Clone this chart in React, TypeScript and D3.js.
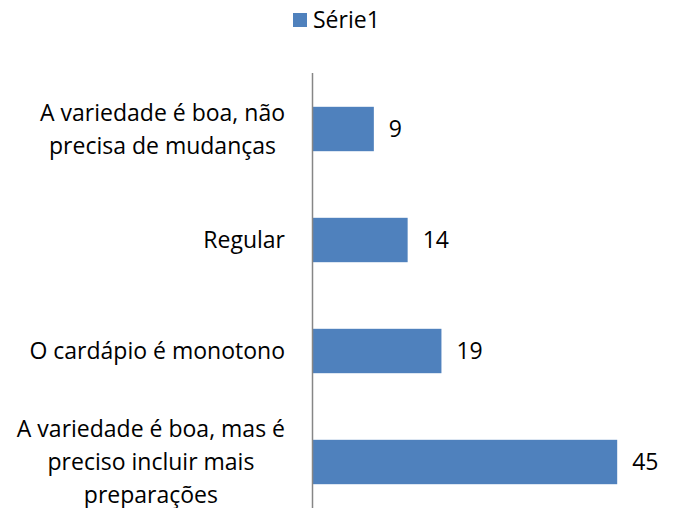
import * as d3 from "d3";
import { useEffect, useRef } from "react";

const categories = [
  ["A variedade é boa, não", "precisa de mudanças"],
  ["Regular"],
  ["O cardápio é monotono"],
  ["A variedade é boa, mas é", "preciso incluir mais", "preparações"],
];
const values = [9, 14, 19, 45];
const seriesName = "Série1";

const FONT = "'Open Sans', sans-serif";
const FONT_SIZE = "23px";
const BLUE = "#4F81BD";

export default function App() {
  const ref = useRef<SVGSVGElement>(null);

  useEffect(() => {
    const svg = d3.select(ref.current);
    svg.selectAll("*").remove();

    const width = 676;
    const height = 508;
    svg.attr("width", width).attr("height", height);

    const keys = categories.map((c) => c.join(" "));

    const y = d3.scaleBand()
      .domain(keys)
      .range([73.5, 517.5])
      .paddingInner(0.6)
      .paddingOuter(0.3);

    const x = d3.scaleLinear().domain([0, 50]).range([313, 651]);

    // bars
    svg.append("g")
      .selectAll("rect")
      .data(values)
      .join("rect")
      .attr("x", x(0))
      .attr("y", (d, i) => y(keys[i])!)
      .attr("width", (d) => x(d) - x(0))
      .attr("height", y.bandwidth())
      .attr("fill", BLUE);

    // axis line
    svg.append("line")
      .attr("x1", x(0) - 0.5)
      .attr("x2", x(0) - 0.5)
      .attr("y1", 73)
      .attr("y2", height)
      .attr("stroke", "#868686")
      .attr("stroke-width", 1.5);

    // value labels
    svg.append("g")
      .selectAll("text")
      .data(values)
      .join("text")
      .attr("x", (d) => x(d) + 15)
      .attr("y", (d, i) => y(keys[i])! + y.bandwidth() / 2)
      .attr("dy", "0.35em")
      .style("font-family", FONT)
      .style("font-size", FONT_SIZE)
      .style("fill", "#000")
      .text((d) => d);

    // category labels, lines centered, block right edge at 285
    const lineH = 33;
    categories.forEach((lines, i) => {
      const cy = y(keys[i])! + y.bandwidth() / 2;
      const g = svg.append("g");
      const texts = lines.map((line, j) =>
        g.append("text")
          .attr("text-anchor", "middle")
          .attr("y", cy + (j - (lines.length - 1) / 2) * lineH)
          .attr("dy", "0.35em")
          .style("font-family", FONT)
          .style("font-size", FONT_SIZE)
          .style("fill", "#000")
          .text(line)
      );
      const maxW = d3.max(texts, (t) => (t.node() as SVGTextElement).getComputedTextLength()) || 0;
      texts.forEach((t) => t.attr("x", 285 - maxW / 2));
    });

    // legend
    const legend = svg.append("g");
    legend.append("rect")
      .attr("x", 293)
      .attr("y", 13)
      .attr("width", 14)
      .attr("height", 14)
      .attr("fill", BLUE);
    legend.append("text")
      .attr("x", 313)
      .attr("y", 20)
      .attr("dy", "0.35em")
      .style("font-family", FONT)
      .style("font-size", FONT_SIZE)
      .style("fill", "#000")
      .text(seriesName);
  }, []);

  return (
    <svg
      ref={ref}
      style={{ position: "absolute", left: 0, top: 0, background: "#fff" }}
    />
  );
}
